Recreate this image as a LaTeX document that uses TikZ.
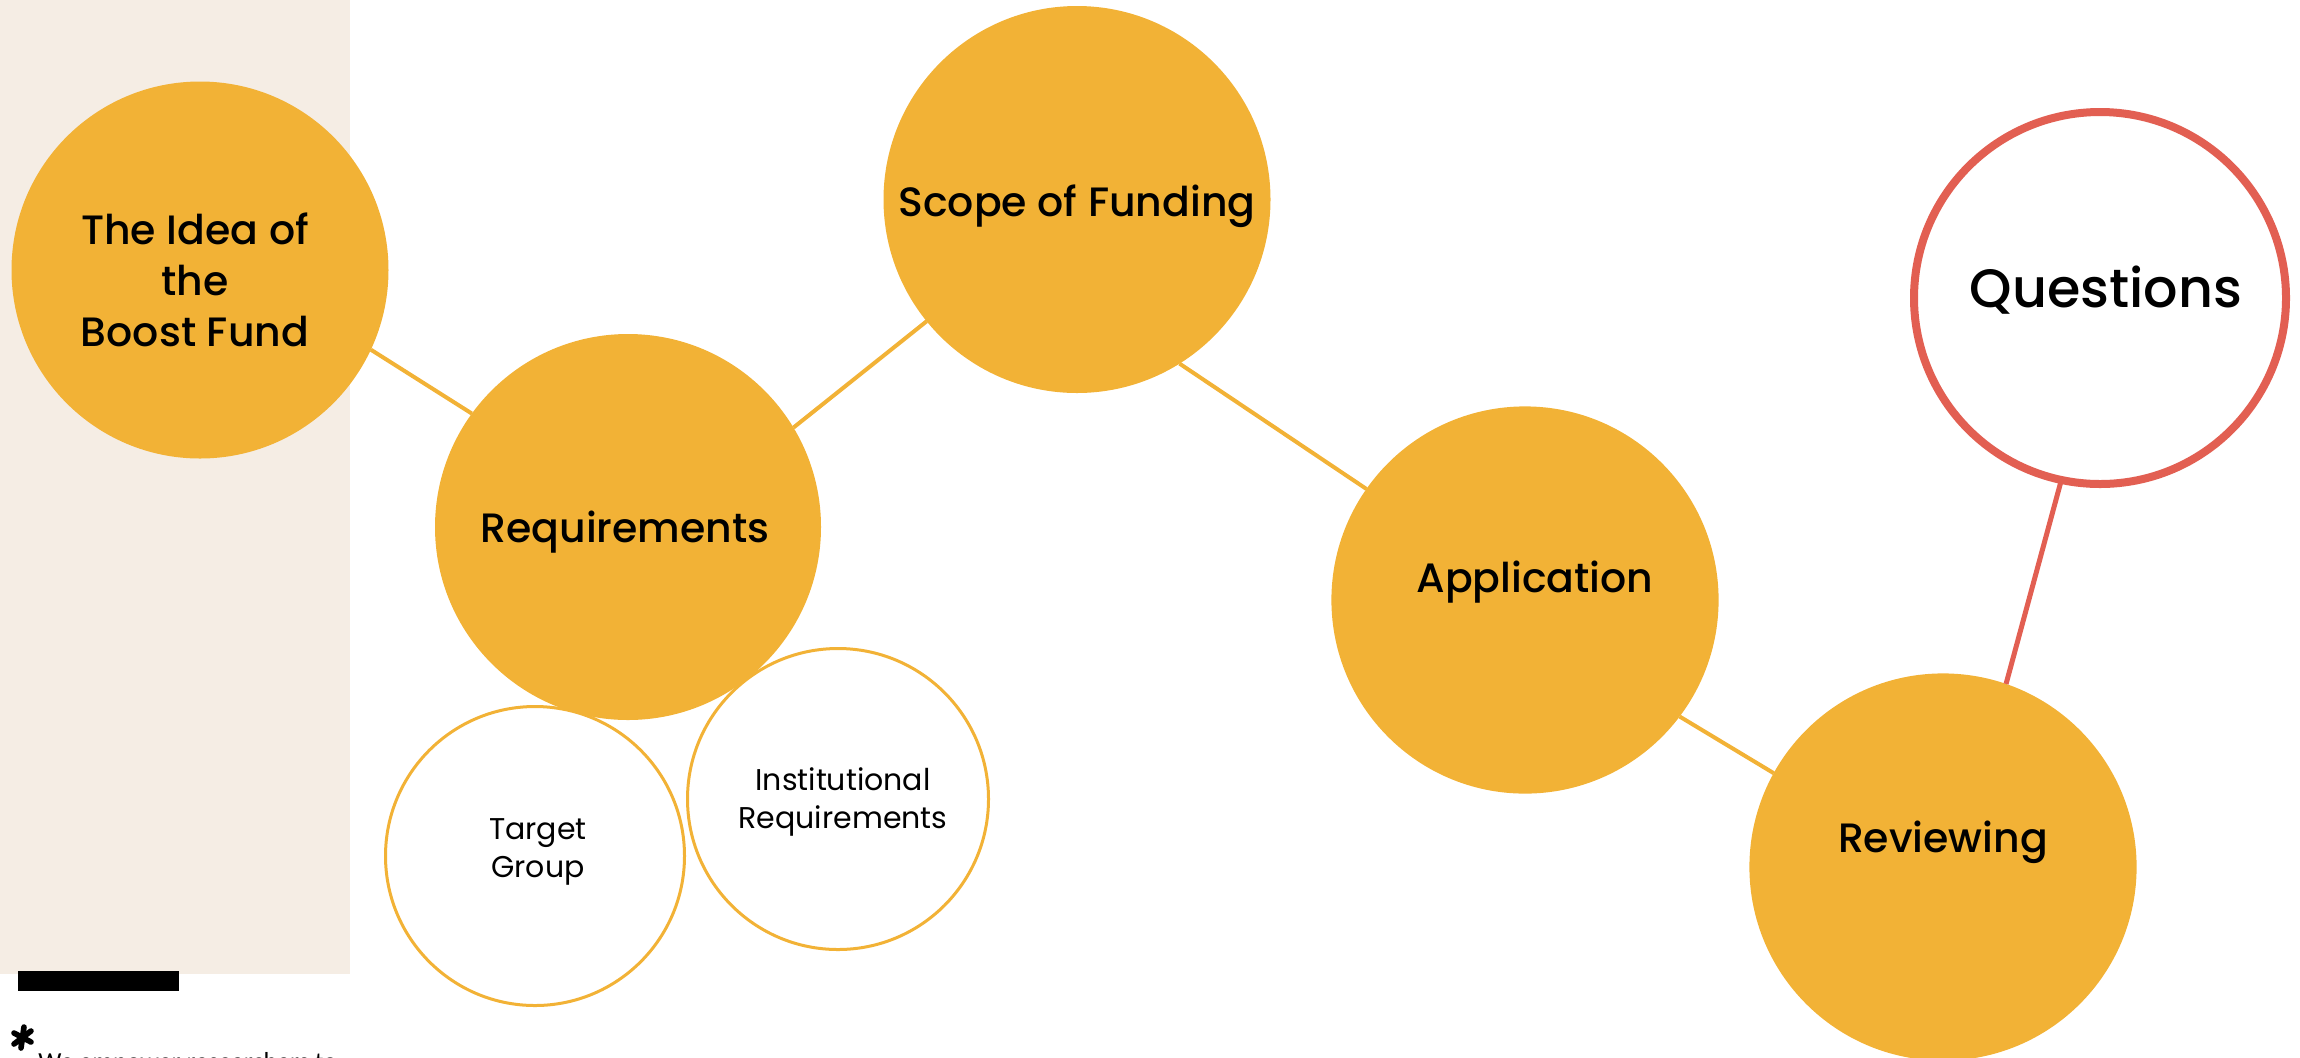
\documentclass[tikz,border=0pt]{standalone}
\usepackage{fontspec}
\setmainfont{Poppins}
\newfontfamily\medfont{Poppins}[UprightFont=* Medium]
\newfontfamily\calfont{Carlito}
\definecolor{boostyellow}{HTML}{F2B236}
\definecolor{boostred}{HTML}{E25F52}
\definecolor{boostbeige}{HTML}{F5EDE4}
\begin{document}
\begin{tikzpicture}[x=0.5pt,y=-0.5pt,
  bigcircle/.style={circle, fill=boostyellow, inner sep=0pt, outer sep=0pt},
  smallcircle/.style={circle, draw=boostyellow, line width=1.5pt, fill=white, inner sep=0pt, outer sep=0pt},
  redcircle/.style={circle, draw=boostred, line width=4pt, fill=white, inner sep=0pt, outer sep=0pt},
  conn/.style={draw=boostyellow, line width=2pt},
  redconn/.style={draw=boostred, line width=2.5pt},
  mainlabel/.style={align=center, inner sep=0pt, font=\medfont\fontsize{20.5}{25.5}\selectfont},
  quelabel/.style={align=center, inner sep=0pt, font=\medfont\fontsize{27}{32}\selectfont},
  smalllabel/.style={align=center, inner sep=0pt, font=\fontsize{15}{19}\selectfont}]
\useasboundingbox (0,0) rectangle (2300,1057);
\clip (0,0) rectangle (2300,1057);
\fill[boostbeige] (0,0) rectangle (350,974);
\fill[black] (18,971) rectangle (179,991);

% main circles
\node[bigcircle, minimum size=188.5pt] (idea) at (200,270) {};
\node[bigcircle, minimum size=193pt] (req) at (628,527) {};
\node[bigcircle, minimum size=193.5pt] (scope) at (1077,199.5) {};
\node[bigcircle, minimum size=193.6pt] (app) at (1525,600) {};
\node[bigcircle, minimum size=193.6pt] (rev) at (1943,867) {};
\node[redcircle, minimum size=186pt] (ques) at (2100,298) {};
\node[smallcircle, minimum size=149.5pt] (target) at (535,856) {};
\node[smallcircle, minimum size=150.5pt] (inst) at (838,799) {};

% connectors
\draw[conn] (idea.-25.9) -- (req.144.9);
\draw[conn] (req.31.6) -- (scope.-141.3);
\draw[conn] (scope.-58.4) -- (app.145.2);
\draw[conn] (app.-37) -- (rev.151.3);
\draw[redconn] (rev.71.4) -- (ques.-102.2);

% labels
\node[mainlabel] (ideatext) at (195,280) {The Idea of\\the\\Boost Fund};
\node[mainlabel] (reqtext) at (625,532.5) {Requirements};
\node[mainlabel] (scopetext) at (1077,206) {Scope of Funding};
\node[mainlabel] (apptext) at (1535,582.5) {Application};
\node[mainlabel] (revtext) at (1943,842.5) {Reviewing};
\node[quelabel] (questext) at (2106,290) {Questions};
\node[smalllabel] (targettext) at (538,852) {Target\\Group};
\node[smalllabel] (insttext) at (843,802) {Institutional\\Requirements};

% footnote
\draw[black, line width=2.8pt, line cap=round] (14,1033) -- (31,1042)
  (14,1044) -- (31,1031) (24,1027) -- (21,1048);
\node[anchor=base west, inner sep=0pt, font=\calfont\fontsize{13}{15}\selectfont] (foot) at (38,1070) {We empower researchers to};
\end{tikzpicture}
\end{document}
